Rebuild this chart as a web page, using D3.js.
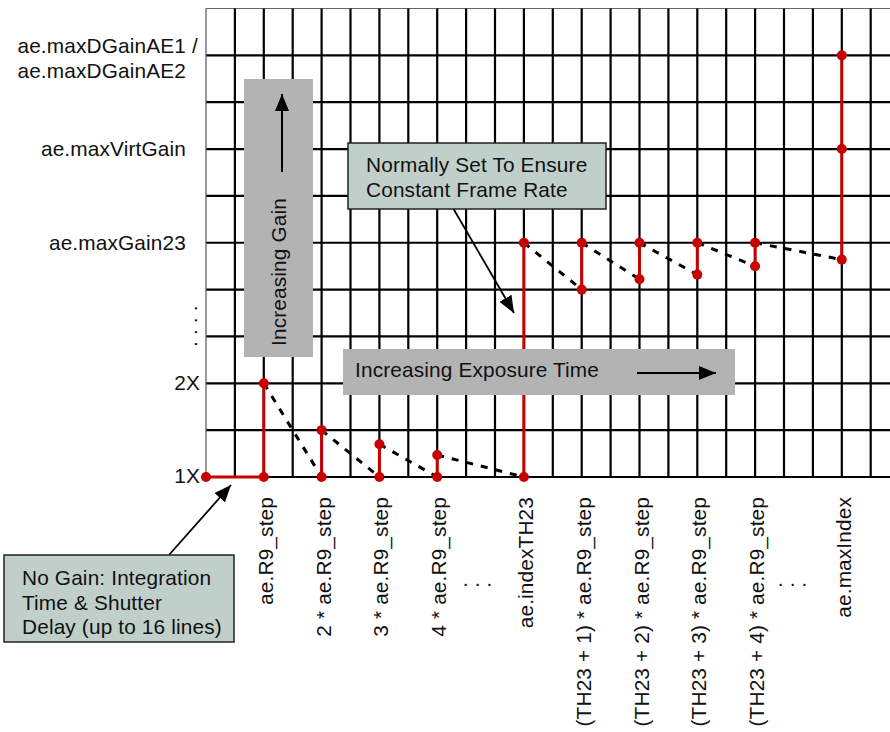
<!DOCTYPE html>
<html>
<head>
<meta charset="utf-8">
<script src="https://cdn.jsdelivr.net/npm/d3@7"></script>
<style>
  body { margin: 0; background: #fff; }
  text { font-family: "Liberation Sans", Arial, Helvetica, sans-serif; font-size: 20.8px; letter-spacing: 0.15px; fill: #111; }
</style>
</head>
<body>
<div id="chart"></div>
<script>
const width = 890;
const height = 732;

// gain rows: 0 = 1X, 10 = top of the grid
const yTickValues = [0, 2, 5, 7, 9];
const yTickLabels = ["1X", "2X", "ae.maxGain23", "ae.maxVirtGain", "ae.maxDGainAE1 /|ae.maxDGainAE2"];

// exposure steps (grid columns)
const stepX = [2, 4, 6, 8, 11, 13, 15, 17, 19, 22];
const stepLabels = [
    "ae.R9_step", "2 * ae.R9_step", "3 * ae.R9_step", "4 * ae.R9_step",
    "ae.indexTH23",
    "(TH23 + 1) * ae.R9_step", "(TH23 + 2) * ae.R9_step",
    "(TH23 + 3) * ae.R9_step", "(TH23 + 4) * ae.R9_step",
    "ae.maxIndex"
];
const gainLow = [0, 0, 0, 0, 0, 4.0, 4.22, 4.32, 4.5, 4.64];
const gainHigh = [2, 1, 0.7, 0.47, 5, 5, 5, 5, 5, 9];
const extraDots = [[22, 7], [0, 0]];
const noGainLine = [[0, 0], [2, 0]];
const ellipsisX = [9.4, 20.3];

const red = '#c80000';

const svg = d3.select('#chart').append('svg').attr('width', width).attr('height', height);

const x = d3.scaleLinear().domain([0, 24]).range([206, 899.6]);
const y = d3.scaleLinear().domain([0, 10]).range([477, 8.5]);

const defs = svg.append('defs');
defs.append('marker')
    .attr('id', 'head')
    .attr('viewBox', '0 0 10 10')
    .attr('refX', 10).attr('refY', 5)
    .attr('markerUnits', 'userSpaceOnUse')
    .attr('markerWidth', 17).attr('markerHeight', 14)
    .attr('preserveAspectRatio', 'none')
    .attr('orient', 'auto')
    .append('path').attr('d', 'M0,0L10,5L0,10Z').attr('fill', '#000');

// grid
const grid = svg.append('g');
grid.selectAll('line.h')
    .data(d3.range(0, 11))
    .join('line')
    .attr('x1', x(0)).attr('x2', width)
    .attr('y1', d => y(d)).attr('y2', d => y(d))
    .attr('stroke', d => d === 10 ? '#666' : '#000')
    .attr('stroke-width', d => d === 10 ? 1 : 2.2);
grid.selectAll('line.v')
    .data(d3.range(0, 24))
    .join('line')
    .attr('x1', d => x(d)).attr('x2', d => x(d))
    .attr('y1', y(0)).attr('y2', y(10))
    .attr('stroke', d => d === 0 ? '#555' : '#000')
    .attr('stroke-width', d => d === 0 ? 1.2 : 2.2);

// data
const plot = svg.append('g');
const dashData = stepX.slice(0, -1).map((s, i) => [[s, gainHigh[i]], [stepX[i + 1], gainLow[i + 1]]]);
plot.selectAll('path.dash')
    .data(dashData)
    .join('path')
    .attr('d', d3.line().x(d => x(d[0])).y(d => y(d[1])))
    .attr('fill', 'none')
    .attr('stroke', '#000')
    .attr('stroke-width', 3)
    .attr('stroke-dasharray', '7 8');

plot.append('path')
    .attr('d', d3.line().x(d => x(d[0])).y(d => y(d[1]))(noGainLine))
    .attr('stroke', red).attr('stroke-width', 3).attr('fill', 'none');

plot.selectAll('line.stem')
    .data(stepX)
    .join('line')
    .attr('x1', d => x(d)).attr('x2', d => x(d))
    .attr('y1', (d, i) => y(gainLow[i])).attr('y2', (d, i) => y(gainHigh[i]))
    .attr('stroke', red).attr('stroke-width', 3);

const dots = stepX.flatMap((s, i) => [[s, gainLow[i]], [s, gainHigh[i]]]).concat(extraDots);
plot.selectAll('circle')
    .data(dots)
    .join('circle')
    .attr('cx', d => x(d[0])).attr('cy', d => y(d[1]))
    .attr('r', 5)
    .attr('fill', red);

// y labels
yTickLabels.forEach((lab, i) => {
    const lines = lab.split('|');
    const short = lab.length <= 2;
    const t = svg.append('text')
        .attr('y', y(yTickValues[i]))
        .attr('text-anchor', lines.length > 1 ? 'start' : 'end');
    if (lines.length === 1) {
        t.attr('x', short ? 200 : 186).attr('dy', short ? '0.3em' : '0.35em').text(lab);
    } else {
        const sp = lines.map((l, j) => t.append('tspan').attr('dy', j === 0 ? '-0.1em' : '1.2em').text(l));
        const w = sp[1].node().getComputedTextLength();
        sp.forEach(s => s.attr('x', 186 - w));
    }
});
svg.append('text')
    .attr('transform', `translate(197,${y(3.22)}) rotate(-90)`)
    .attr('text-anchor', 'middle')
    .text('. . . .');

// x labels
svg.selectAll('text.step')
    .data(stepX)
    .join('text')
    .attr('class', 'step')
    .attr('transform', d => `translate(${x(d) + 9},497) rotate(-90)`)
    .attr('text-anchor', 'end')
    .text((d, i) => stepLabels[i]);
svg.selectAll('text.ell')
    .data(ellipsisX)
    .join('text')
    .attr('class', 'ell')
    .attr('x', d => x(d)).attr('y', 586)
    .attr('text-anchor', 'middle')
    .text('. . .');

// gray direction boxes
const notes = svg.append('g');
notes.append('rect').attr('x', 244).attr('y', 79).attr('width', 69).attr('height', 278).attr('fill', '#b3b3b3');
notes.append('text')
    .attr('transform', 'translate(286,346) rotate(-90)')
    .text('Increasing Gain');
notes.append('line')
    .attr('x1', 282).attr('y1', 172).attr('x2', 282).attr('y2', 94)
    .attr('stroke', '#000').attr('stroke-width', 2).attr('marker-end', 'url(#head)');

notes.append('rect').attr('x', 343).attr('y', 349).attr('width', 392).attr('height', 46).attr('fill', '#b3b3b3');
notes.append('text').attr('x', 355).attr('y', 377).text('Increasing Exposure Time');
notes.append('line')
    .attr('x1', 637).attr('y1', 373).attr('x2', 716).attr('y2', 373)
    .attr('stroke', '#000').attr('stroke-width', 2).attr('marker-end', 'url(#head)');

// callouts
function callout(bx, by, bw, bh, lines, tx, ty, arrow) {
    notes.append('line')
        .attr('x1', arrow[0]).attr('y1', arrow[1]).attr('x2', arrow[2]).attr('y2', arrow[3])
        .attr('stroke', '#000').attr('stroke-width', 1.8).attr('marker-end', 'url(#head)');
    notes.append('rect')
        .attr('x', bx).attr('y', by).attr('width', bw).attr('height', bh)
        .attr('fill', '#c0cfca').attr('stroke', '#222').attr('stroke-width', 1.5);
    notes.selectAll(null)
        .data(lines)
        .join('text')
        .attr('x', tx).attr('y', (d, i) => ty + i * 24.5)
        .text(d => d);
}
callout(348, 143, 258, 66, ['Normally Set To Ensure', 'Constant Frame Rate'], 366, 172, [453, 208, 514, 313]);
callout(4, 555, 230, 87, ['No Gain: Integration', 'Time & Shutter', 'Delay (up to 16 lines)'], 22, 585, [169, 555, 231, 485]);
</script>
</body>
</html>
